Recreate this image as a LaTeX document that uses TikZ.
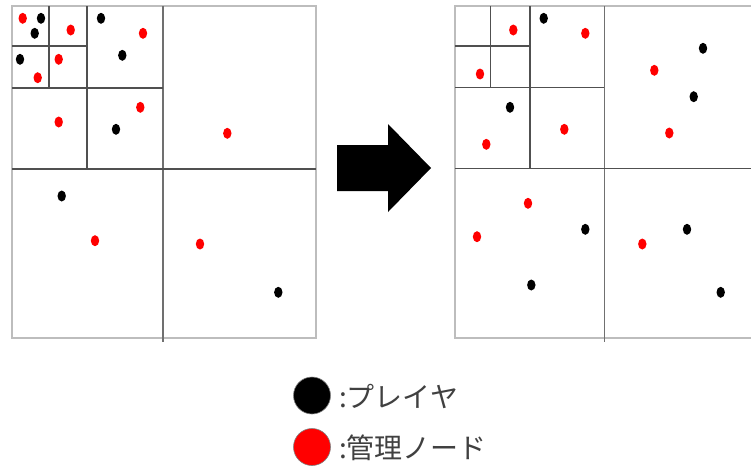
\documentclass[tikz,border=0pt]{standalone}
\usepackage{fontspec}
\newfontfamily\jp{Noto Sans CJK JP}
\definecolor{bordergray}{HTML}{BDBDBD}
\definecolor{partgray}{HTML}{505050}
\definecolor{maingray}{HTML}{707070}
\definecolor{legendtext}{HTML}{404040}
\begin{document}
\begin{tikzpicture}[x=1pt,y=-1pt,
  border/.style={draw=bordergray,line width=1.3pt},
  part/.style={draw=partgray,line width=1.1pt},
  mainpart/.style={draw=maingray,line width=1.1pt},
  pl/.style={fill=black},
  mg/.style={fill=red},
  legtext/.style={anchor=west,inner sep=0pt,text=legendtext,font=\jp\fontsize{28}{32}\selectfont}]
\useasboundingbox (0,0) rectangle (751,466);
\fill[white] (0,0) rectangle (751,466);

% ---------- left panel ----------
\draw[border] (12,6) rectangle (316,338);
\draw[mainpart] (163,6) -- (163,342);
\draw[part] (12,169) -- (316,169);
\draw[part] (87,6) -- (87,169);
\draw[part] (12,88) -- (163,88);
\draw[part] (49,6) -- (49,88);
\draw[part] (12,46) -- (87,46);

\foreach \x/\y in {41/18.3, 34.7/33.3, 20/59.3, 101/18.3, 122.3/55.3, 116/129.3, 61.7/196, 278.3/292.3}
  \fill[pl] (\x,\y) ellipse [x radius=4.2, y radius=5.5];
\foreach \x/\y in {22.7/18.3, 70.7/30, 58.7/59.3, 37.7/77.7, 143/33.3, 140.3/107.3, 58.7/122, 227.3/133.3, 95/240.7, 200/244}
  \fill[mg] (\x,\y) ellipse [x radius=4.2, y radius=5.5];

% ---------- arrow ----------
\fill[black] (337,145) -- (388,145) -- (388,124) -- (431,168) -- (388,212) -- (388,191) -- (337,191) -- cycle;

% ---------- right panel ----------
\draw[border] (751,6) -- (455,6) -- (455,338) -- (751,338);
\draw[mainpart] (604.3,6) -- (604.3,342);
\draw[part] (455,168.7) -- (751,168.7);
\draw[part] (530,6) -- (530,169);
\draw[part] (455,87.7) -- (604,87.7);
\draw[part] (490.7,6) -- (490.7,88);
\draw[part] (455,46) -- (530,46);

\foreach \x/\y in {543.7/18.3, 703/48.3, 693.7/96.7, 510/107.3, 585.3/229.3, 531.3/285, 687/229.3, 720.7/292.3}
  \fill[pl] (\x,\y) ellipse [x radius=4.2, y radius=5.5];
\foreach \x/\y in {513.3/30, 585.3/33.3, 480/74, 654.3/70.3, 669.3/133, 564.3/129.3, 486.3/144.3, 528/203.3, 477/236.7, 642.3/244}
  \fill[mg] (\x,\y) ellipse [x radius=4.2, y radius=5.5];

% ---------- legend ----------
\filldraw[fill=black,draw=gray,line width=0.6pt] (312,395.5) circle [radius=18.5];
\filldraw[fill=red,draw=gray,line width=0.6pt] (312,447) circle [radius=18.5];
\node[legtext] (legplayer) at (339,396) {:プレイヤ};
\node[legtext] (legnode) at (339,447.5) {:管理ノード};
\end{tikzpicture}
\end{document}
